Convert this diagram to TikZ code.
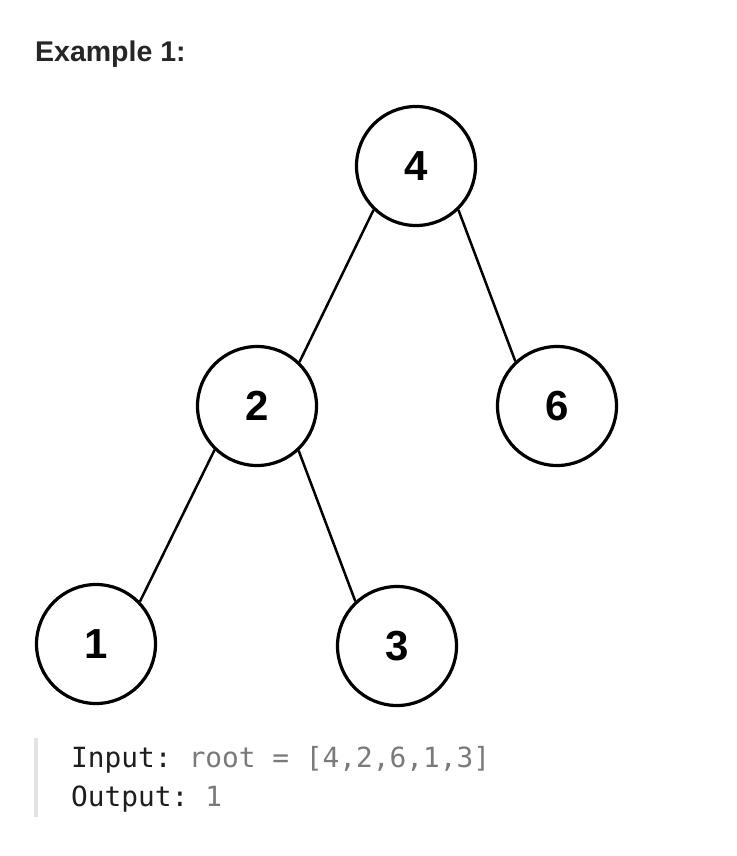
\documentclass[tikz,border=0pt]{standalone}
\usepackage{fontspec}
\setmainfont{Liberation Sans}
\newfontfamily\codefont{DejaVu Sans Mono}
\definecolor{titlecol}{HTML}{262626}
\definecolor{codedark}{HTML}{1E1E1E}
\definecolor{codegray}{HTML}{7A7A7A}
\definecolor{barcol}{HTML}{E3E3E3}
\begin{document}
\begin{tikzpicture}[x=1pt,y=-1pt,
  treenode/.style={circle,draw=black,line width=3.2pt,minimum size=119pt,inner sep=0pt,
    font=\fontsize{42}{42}\selectfont\bfseries,fill=white},
  edge/.style={draw=black,line width=2.5pt},
  codetxt/.style={anchor=base west,inner sep=0pt,font=\codefont\fontsize{27.8}{30}\selectfont}]
\useasboundingbox (0,0) rectangle (736,856);
\fill[white] (0,0) rectangle (736,856);
\node[anchor=base west,inner sep=0pt,text=titlecol,font=\fontsize{28.5}{30}\selectfont\bfseries] (title) at (35,62) {Example 1:};
\node[treenode] (n4) at (416,166) {4};
\node[treenode] (n2) at (257,406) {2};
\node[treenode] (n6) at (557,406) {6};
\node[treenode] (n1) at (96,644) {1};
\node[treenode] (n3) at (397,646) {3};
\draw[edge] (n4.-134) -- (n2.46);
\draw[edge] (n4.-46) -- (n6.133);
\draw[edge] (n2.-134) -- (n1.44);
\draw[edge] (n2.-47) -- (n3.133);
\fill[barcol] (34,738) rectangle (37.5,817);
\node[codetxt,text=codedark] (inlbl) at (71,767) {Input:};
\node[codetxt,text=codegray,anchor=base west] (inval) at (inlbl.base east) {\ root = [4,2,6,1,3]};
\node[codetxt,text=codedark] (outlbl) at (71,806) {Output:};
\node[codetxt,text=codegray,anchor=base west] (outval) at (outlbl.base east) {\ 1};
\end{tikzpicture}
\end{document}
